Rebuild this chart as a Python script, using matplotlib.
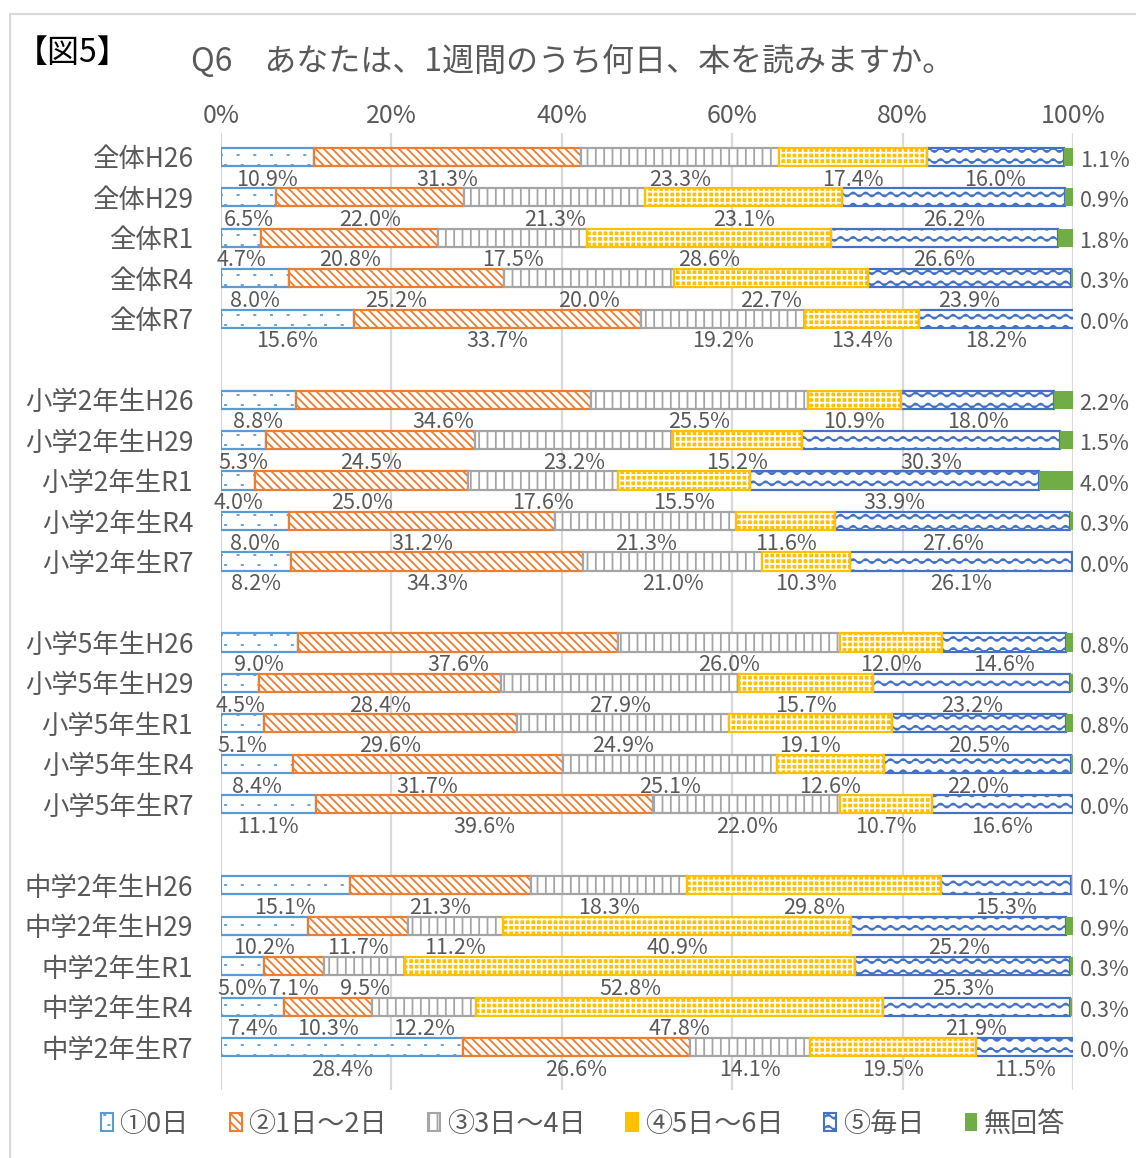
import warnings
warnings.filterwarnings("ignore")
import numpy as np
import matplotlib
matplotlib.use("Agg")
import matplotlib.pyplot as plt
import matplotlib.hatch as mhatch
from matplotlib.path import Path
from matplotlib.patches import Patch, Rectangle

plt.rcParams['font.family'] = ['Noto Sans CJK JP', 'DejaVu Sans']
plt.rcParams['hatch.linewidth'] = 1.3

# ---------------- data ----------------
categories = [
    "全体H26", "全体H29", "全体R1", "全体R4", "全体R7",
    "小学2年生H26", "小学2年生H29", "小学2年生R1", "小学2年生R4", "小学2年生R7",
    "小学5年生H26", "小学5年生H29", "小学5年生R1", "小学5年生R4", "小学5年生R7",
    "中学2年生H26", "中学2年生H29", "中学2年生R1", "中学2年生R4", "中学2年生R7",
]
series_names = ["①0日", "②1日～2日", "③3日～4日", "④5日～6日", "⑤毎日", "無回答"]
day0 = [10.9, 6.5, 4.7, 8.0, 15.6, 8.8, 5.3, 4.0, 8.0, 8.2,
        9.0, 4.5, 5.1, 8.4, 11.1, 15.1, 10.2, 5.0, 7.4, 28.4]
day12 = [31.3, 22.0, 20.8, 25.2, 33.7, 34.6, 24.5, 25.0, 31.2, 34.3,
         37.6, 28.4, 29.6, 31.7, 39.6, 21.3, 11.7, 7.1, 10.3, 26.6]
day34 = [23.3, 21.3, 17.5, 20.0, 19.2, 25.5, 23.2, 17.6, 21.3, 21.0,
         26.0, 27.9, 24.9, 25.1, 22.0, 18.3, 11.2, 9.5, 12.2, 14.1]
day56 = [17.4, 23.1, 28.6, 22.7, 13.4, 10.9, 15.2, 15.5, 11.6, 10.3,
         12.0, 15.7, 19.1, 12.6, 10.7, 29.8, 40.9, 52.8, 47.8, 19.5]
daily = [16.0, 26.2, 26.6, 23.9, 18.2, 18.0, 30.3, 33.9, 27.6, 26.1,
         14.6, 23.2, 20.5, 22.0, 16.6, 15.3, 25.2, 25.3, 21.9, 11.5]
noans = [1.1, 0.9, 1.8, 0.3, 0.0, 2.2, 1.5, 4.0, 0.3, 0.0,
         0.8, 0.3, 0.8, 0.2, 0.0, 0.1, 0.9, 0.3, 0.3, 0.0]
xticks = [0, 20, 40, 60, 80, 100]
xtick_labels = ["0%", "20%", "40%", "60%", "80%", "100%"]

# ---------------- custom hatches ----------------
class WaveHatch(mhatch.HatchPatternBase):
    def __init__(self, hatch, density):
        n = hatch.count('w')
        self.num_rows = 9 * n
        self.periods = 8
        self.per_period = 12
        self.pts = self.periods * self.per_period + 1
        self.num_vertices = self.num_rows * self.pts

    def set_vertices_and_codes(self, vertices, codes):
        xs = np.linspace(0, 1, self.pts)
        k = 0
        for i in range(self.num_rows):
            yc = (i + 0.5) / self.num_rows
            ys = yc + 0.02 * np.sin(2 * np.pi * self.periods * xs)
            vertices[k:k + self.pts, 0] = xs
            vertices[k:k + self.pts, 1] = ys
            codes[k] = Path.MOVETO
            codes[k + 1:k + self.pts] = Path.LINETO
            k += self.pts


class TinyDotHatch(mhatch.HatchPatternBase):
    """sparse tiny dots drawn as very short dashes"""
    def __init__(self, hatch, density):
        n = hatch.count('d')
        self.rows = 10 * n
        self.cols = 6 * n
        self.num_vertices = self.rows * self.cols * 2

    def set_vertices_and_codes(self, vertices, codes):
        k = 0
        for r in range(self.rows):
            shift = 0.5 if r % 2 else 0.0
            for c in range(self.cols):
                x = (c + 0.25 + shift * 0.5) / self.cols
                y = (r + 0.5) / self.rows
                vertices[k] = (x, y)
                vertices[k + 1] = (x + 0.012, y)
                codes[k] = Path.MOVETO
                codes[k + 1] = Path.LINETO
                k += 2

mhatch._hatch_types.append(WaveHatch)
mhatch._hatch_types.append(TinyDotHatch)

# ---------------- styles ----------------
colors = ['#5B9BD5', '#ED7D31', '#A5A5A5', '#FFC000', '#4472C4', '#70AD47']
hatches = ['d', '\\\\\\\\', '||', '+++', 'w', None]
txt_color = '#595959'

values = np.array([day0, day12, day34, day56, daily, noans])

# row positions with blank row between groups
ypos = np.array([(i // 5) * 6 + (i % 5) for i in range(len(categories))])

W, H = 1136, 1158
fig = plt.figure(figsize=(W / 100, H / 100), dpi=100)
ax = fig.add_axes([221 / W, 1 - 1090 / H, (1073 - 221) / W, (1090 - 133) / H])

bh = 0.45
left = np.zeros(len(categories))
for s in range(6):
    v = values[s]
    c = colors[s]
    if s == 3:
        ax.barh(ypos, v, left=left, height=bh, facecolor=c, edgecolor='white',
                hatch=hatches[s], linewidth=0, zorder=3)
        ax.barh(ypos, v, left=left, height=bh, facecolor='none', edgecolor=c,
                linewidth=1.6, zorder=4)
    elif s == 5:
        ax.barh(ypos, v, left=left, height=bh, facecolor=c, edgecolor=c,
                linewidth=0, zorder=3)
    else:
        ax.barh(ypos, v, left=left, height=bh, facecolor='white', edgecolor=c,
                hatch=hatches[s], linewidth=1.6, zorder=3)
    for i in range(len(categories)):
        if s < 5:
            ax.text(left[i] + v[i] / 2, ypos[i] + 0.56, f"{v[i]:.1f}%",
                    ha='center', va='center', fontsize=15.5, color=txt_color)
        else:
            ax.text(103.7, ypos[i] + 0.1, f"{v[i]:.1f}%",
                    ha='center', va='center', fontsize=15.5, color=txt_color,
                    clip_on=False)
    left = left + v

ax.set_xlim(0, 100)
ax.set_ylim(ypos.max() + 1.06, -0.59)
ax.set_yticks(ypos)
ax.set_yticklabels(categories, fontsize=19, color=txt_color)
ax.xaxis.tick_top()
ax.set_xticks(xticks)
ax.set_xticklabels(xtick_labels, fontsize=18, color=txt_color)
ax.tick_params(axis='both', length=0)
ax.tick_params(axis='x', pad=3)
ax.tick_params(axis='y', pad=20)
for sp in ax.spines.values():
    sp.set_visible(False)
ax.grid(axis='x', color='#D9D9D9', linewidth=1.6, zorder=0)
ax.set_axisbelow(True)

# titles
fig.text(16 / W, 1 - 53 / H, "【図5】", fontsize=23, ha='left', va='center', color='black')
fig.text(573 / W, 1 - 61 / H, "Q6　あなたは、1週間のうち何日、本を読みますか。",
         fontsize=23, ha='center', va='center', color=txt_color)

# legend
handles = []
for s in range(6):
    if s == 5:
        handles.append(Patch(facecolor=colors[s], edgecolor=colors[s], linewidth=0))
    elif s == 3:
        handles.append(Patch(facecolor=colors[s], edgecolor=colors[s], hatch='xxx', linewidth=1.5))
    else:
        handles.append(Patch(facecolor='white', edgecolor=colors[s], hatch=hatches[s], linewidth=1.5))
leg = fig.legend(handles, series_names, loc='center', bbox_to_anchor=(583 / W, 1 - 1124 / H),
                 ncol=6, frameon=False, fontsize=19.5, handlelength=0.45, handleheight=0.6,
                 handletextpad=0.25, columnspacing=1.5)
for t in leg.get_texts():
    t.set_color(txt_color)

# outer frame
fig.patches.append(Rectangle((10 / W, -0.01), 1.1, 1 - 14 / H + 0.01, transform=fig.transFigure,
                             fill=False, edgecolor='#D9D9D9', linewidth=1.5))

fig.savefig("out.png", dpi=100)
